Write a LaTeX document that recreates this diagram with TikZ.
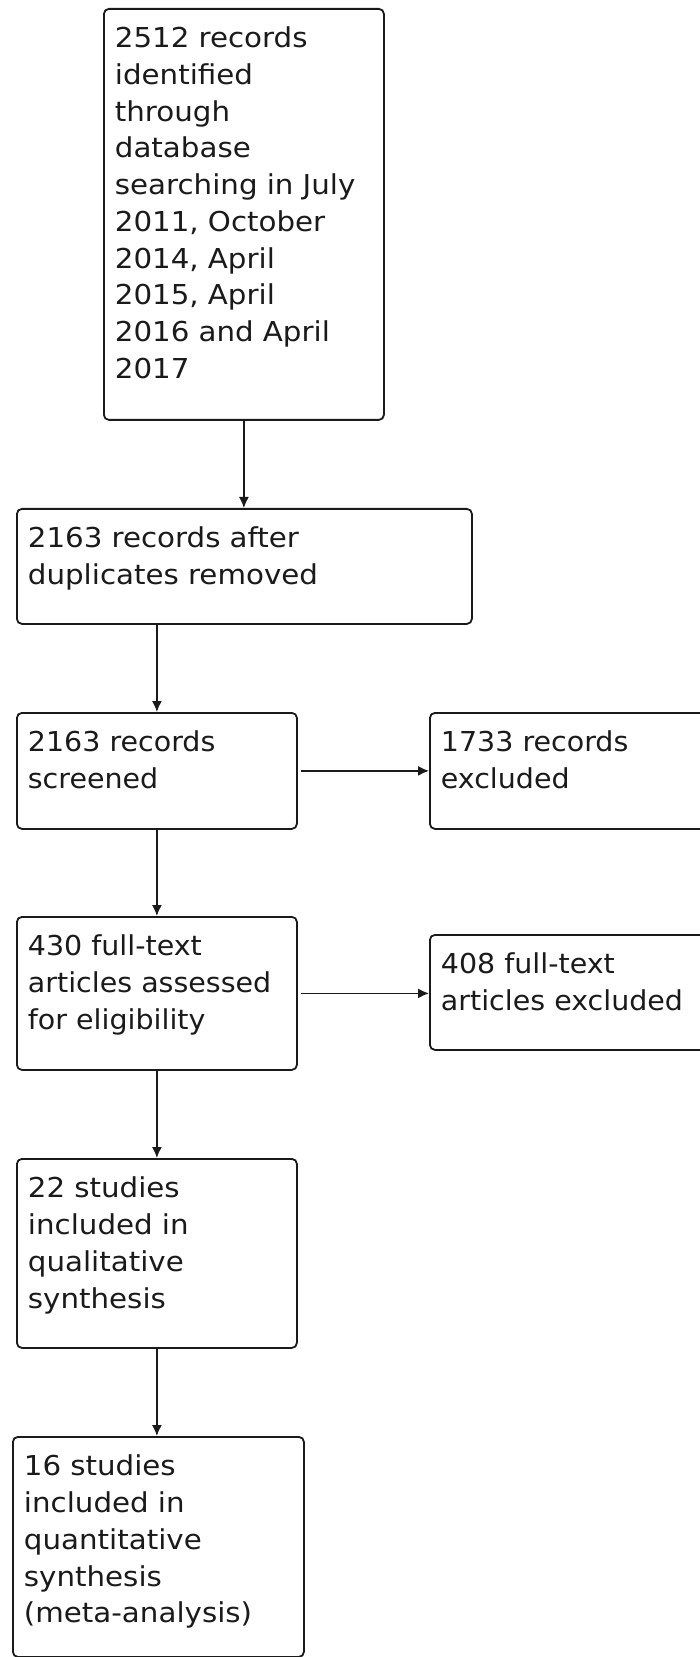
\documentclass[tikz,border=0pt]{standalone}
\usepackage{fontspec}
\usetikzlibrary{arrows.meta}
\newfontfamily\flowfont{DejaVu Sans}[FakeStretch=1.07]
\newfontfamily\condfont{DejaVu Sans}[FakeStretch=1.04]
\definecolor{C1}{HTML}{1A1A1A}

\begin{document}
\begin{tikzpicture}[x=1pt,y=1pt]
\tikzstyle{box} = [draw=C1,line width=0.9pt,rounded corners=2.5pt,anchor=north west,align=left,inner xsep=5.5pt,inner ysep=9.5pt,text height=10pt,text=C1,font=\fontsize{13.7}{18.35}\flowfont]
\tikzstyle{cbox} = [box,font=\fontsize{13.7}{18.35}\condfont]
\tikzstyle{a} = [line width=0.75pt,C1,-{Latex[length=5.5pt,width=5pt]}]
\useasboundingbox (0,0) rectangle (350,-828.5);
\node[box,text width=129pt,text depth=176.5pt] (ident) at (51.5,-4) {2512 records\\identified\\through\\database\\searching in July\\2011, October\\2014, April\\2015, April\\2016 and April\\2017};
\node[box,text width=216.5pt,text depth=28.5pt] (dedup) at (8,-254) {2163 records after\\duplicates removed};
\node[cbox,text width=129pt,text depth=29pt] (screen) at (8,-356) {2163 records\\screened};
\node[cbox,text width=139pt,text depth=29pt] (recex) at (214.5,-356) {1733 records\\excluded};
\node[cbox,text width=129pt,text depth=47.5pt] (full) at (8,-458) {430 full-text\\articles assessed\\for eligibility};
\node[cbox,text width=139pt,text depth=28.5pt] (fullex) at (214.5,-467) {408 full-text\\articles excluded};
\node[box,text width=129pt,text depth=65.5pt] (qual) at (8,-579) {22 studies\\included in\\qualitative\\synthesis};
\node[box,text width=134.5pt,text depth=81pt] (quant) at (6,-718) {16 studies\\included in\\quantitative\\synthesis\\(meta-analysis)};
\draw[a] (ident.south) -- (ident.south |- dedup.north);
\draw[a] (screen.north |- dedup.south) -- (screen.north);
\draw[a,shorten <=1.5pt] (screen.east) -- (recex.west);
\draw[a] (screen.south) -- (full.north);
\draw[a,shorten <=1.5pt] (full.east) -- (full.east -| fullex.west);
\draw[a] (full.south) -- (qual.north);
\draw[a] (qual.south) -- (qual.south |- quant.north);
\end{tikzpicture}
\end{document}
